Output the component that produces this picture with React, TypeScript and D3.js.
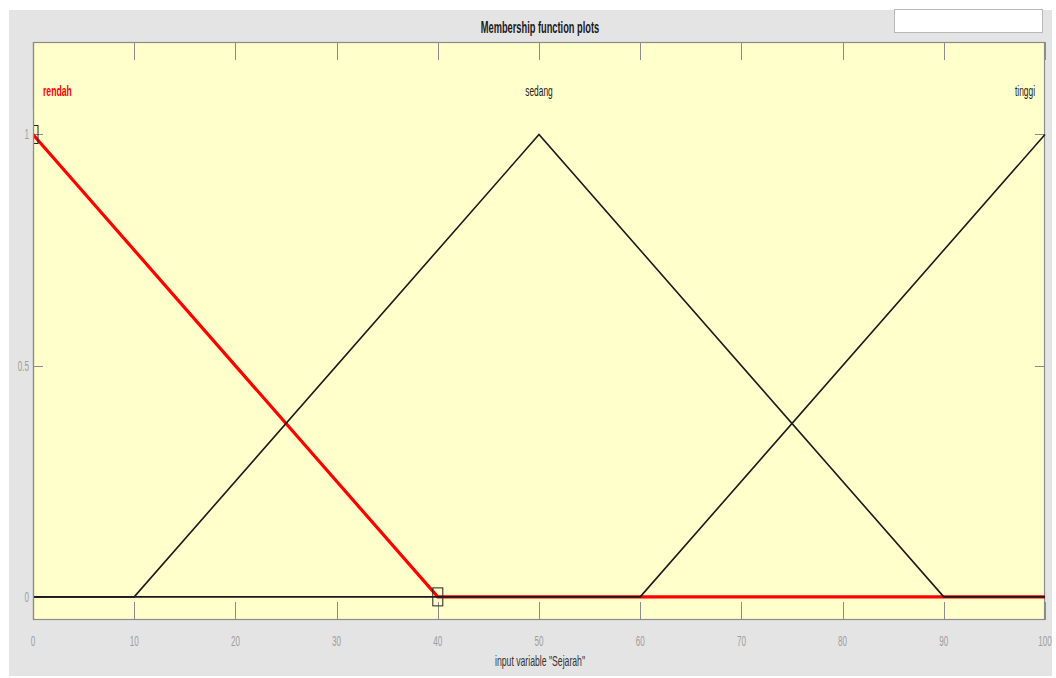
import { useEffect, useRef } from "react";
import * as d3 from "d3";

// membership functions for input variable "Sejarah"
const mfNames = ["rendah", "sedang", "tinggi"];
const rendahX = [0, 40, 100];
const rendahY = [1, 0, 0];
const sedangX = [0, 10, 50, 90, 100];
const sedangY = [0, 0, 1, 0, 0];
const tinggiX = [0, 60, 100];
const tinggiY = [0, 0, 1];
const xTicks = [0, 10, 20, 30, 40, 50, 60, 70, 80, 90, 100];
const yTicks = [0, 0.5, 1];

const FONT = "'Liberation Sans', Arial, sans-serif";

const App = () => {
  const ref = useRef<SVGSVGElement | null>(null);

  useEffect(() => {
    const el = ref.current;
    if (!el) return;
    d3.select(el).selectAll("*").remove();
    const svg = d3.select(el);

    const W = 1056, H = 678;
    const plot = { left: 33, right: 1045, top: 42, bottom: 620 };

    // condensed text (the original uses a narrow UI font)
    const label = (
      px: number, py: number, txt: string | number,
      opts: { size?: number; sx?: number; anchor?: string; weight?: string; fill?: string } = {}
    ) => {
      const { size = 13, sx = 0.64, anchor = "start", weight = "400", fill = "#222" } = opts;
      return svg.append("text")
        .attr("transform", `translate(${px},${py}) scale(${sx},1)`)
        .attr("text-anchor", anchor)
        .style("font-family", FONT)
        .style("font-size", `${size}px`)
        .style("font-weight", weight)
        .style("fill", fill)
        .text(txt);
    };

    // ── Backgrounds ──────────────────────────────────────────────
    svg.append("rect").attr("x", 0).attr("y", 0).attr("width", W).attr("height", H).attr("fill", "#fff");
    svg.append("rect").attr("x", 9).attr("y", 10).attr("width", 1043).attr("height", 666).attr("fill", "#e4e4e4");
    svg.append("rect")
      .attr("x", 894.5).attr("y", 9.5).attr("width", 148).attr("height", 23)
      .attr("fill", "#fff").attr("stroke", "#b8b8b8");

    svg.append("rect")
      .attr("x", plot.left).attr("y", plot.top)
      .attr("width", plot.right - plot.left).attr("height", plot.bottom - plot.top)
      .attr("fill", "#ffffcc");

    // ── Scales ───────────────────────────────────────────────────
    const x = d3.scaleLinear().domain([0, 100]).range([plot.left, plot.right]);
    const y = d3.scaleLinear().domain([-0.05, 1.2]).range([plot.bottom, plot.top]);

    // ── Ticks (inward, top+bottom, left+right) ───────────────────
    const tickCol = "#8c8c8c";
    const tickTxt = "#9e9e9e";
    xTicks.forEach(t => {
      const px = Math.round(x(t)) + 0.5;
      svg.append("line").attr("x1", px).attr("x2", px).attr("y1", plot.top).attr("y2", plot.top + 18)
        .attr("stroke", tickCol).attr("stroke-width", 1);
      svg.append("line").attr("x1", px).attr("x2", px).attr("y1", plot.bottom).attr("y2", plot.bottom - 18)
        .attr("stroke", tickCol).attr("stroke-width", 1);
      label(x(t), plot.bottom + 26, t, { size: 14, sx: 0.58, anchor: "middle", fill: tickTxt });
    });
    yTicks.forEach(t => {
      const py = Math.round(y(t)) + 0.5;
      svg.append("line").attr("x1", plot.left).attr("x2", plot.left + 10).attr("y1", py).attr("y2", py)
        .attr("stroke", tickCol).attr("stroke-width", 1);
      svg.append("line").attr("x1", plot.right).attr("x2", plot.right - 10).attr("y1", py).attr("y2", py)
        .attr("stroke", tickCol).attr("stroke-width", 1);
    });

    // ── Plot frame ───────────────────────────────────────────────
    svg.append("rect")
      .attr("x", plot.left + 0.5).attr("y", plot.top + 0.5)
      .attr("width", plot.right - plot.left - 1).attr("height", plot.bottom - plot.top - 1)
      .attr("fill", "none").attr("stroke", "#8c8c8c").attr("stroke-width", 1.2);

    // ── Membership lines ─────────────────────────────────────────
    const line = d3.line<[number, number]>().x(d => x(d[0])).y(d => y(d[1]));
    const pts = (xs: number[], ys: number[]) => xs.map((v, i) => [v, ys[i]] as [number, number]);

    svg.append("path").attr("d", line(pts(rendahX, rendahY))).attr("fill", "none")
      .attr("stroke", "#ff0000").attr("stroke-width", 3.2);
    [pts(sedangX, sedangY), pts(tinggiX, tinggiY)].forEach(p => {
      svg.append("path").attr("d", line(p)).attr("fill", "none")
        .attr("stroke", "#1a1a1a").attr("stroke-width", 1.6);
    });

    // selection handles on the active function
    [[rendahX[0], rendahY[0]], [rendahX[1], rendahY[1]]].forEach(([vx, vy]) => {
      svg.append("rect")
        .attr("x", x(vx) - 5).attr("y", y(vy) - 9)
        .attr("width", 10).attr("height", 18)
        .attr("fill", "none").attr("stroke", "#222").attr("stroke-width", 1);
    });

    // redraw left frame over the handle
    svg.append("rect").attr("x", 9).attr("y", 110).attr("width", plot.left - 9).attr("height", 40).attr("fill", "#e4e4e4");
    svg.append("line").attr("x1", plot.left + 0.5).attr("x2", plot.left + 0.5)
      .attr("y1", plot.top).attr("y2", plot.bottom).attr("stroke", "#8c8c8c").attr("stroke-width", 1.2);

    yTicks.forEach(t => {
      label(plot.left - 4, y(t) + 5, t, { size: 14, sx: 0.58, anchor: "end", fill: tickTxt });
    });

    // ── MF names ─────────────────────────────────────────────────
    const labelY = 96;
    label(x(0) + 10, labelY, mfNames[0], { size: 14, weight: "700", fill: "#ff0000", sx: 0.62 });
    label(x(50), labelY, mfNames[1], { size: 14, anchor: "middle", fill: "#222", sx: 0.6 });
    label(x(100) - 10, labelY, mfNames[2], { size: 14, anchor: "end", fill: "#222", sx: 0.6 });

    // ── Title and axis label ─────────────────────────────────────
    label(540, 33, "Membership function plots", { size: 16, weight: "700", anchor: "middle", fill: "#1a1a1a", sx: 0.58 });
    label(540, 666, 'input variable "Sejarah"', { size: 14, anchor: "middle", fill: "#333", sx: 0.62 });
  }, []);

  return (
    <svg
      ref={ref}
      width={1056}
      height={678}
      style={{ position: "absolute", left: 0, top: 0, display: "block" }}
    />
  );
};

export default App;
